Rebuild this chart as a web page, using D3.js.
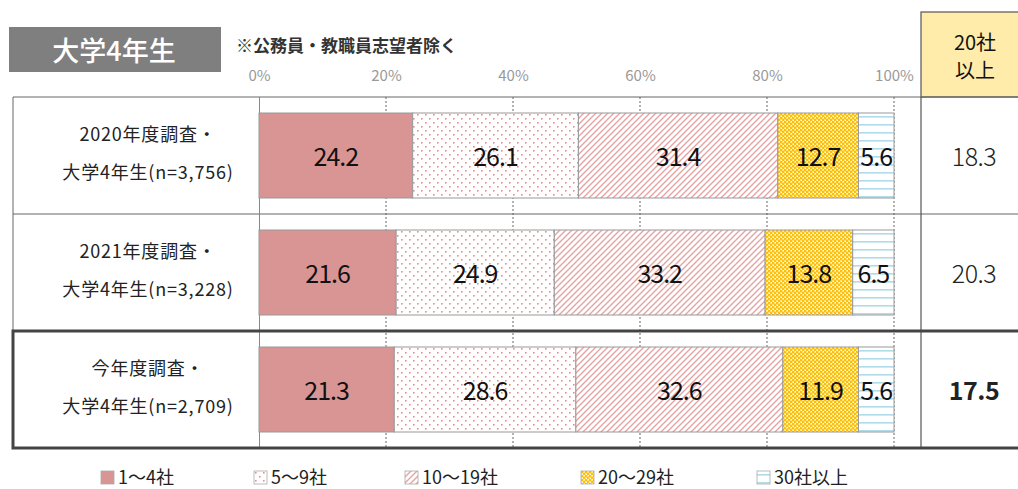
<!DOCTYPE html>
<html>
<head>
<meta charset="utf-8">
<script src="https://cdn.jsdelivr.net/npm/d3@7"></script>
<style>
  html, body { margin: 0; padding: 0; background: #fff; }
  svg { display: block; font-family: "Noto Sans CJK JP", "Noto Sans", sans-serif; }
</style>
</head>
<body>
<div id="chart"></div>
<script>
// data
const rowLines = [
  ["2020年度調査・", "大学4年生(n=3,756)"],
  ["2021年度調査・", "大学4年生(n=3,228)"],
  ["今年度調査・", "大学4年生(n=2,709)"]
];
const categories = ["1〜4社", "5〜9社", "10〜19社", "20〜29社", "30社以上"];
const values = [
  [24.2, 26.1, 31.4, 12.7, 5.6],
  [21.6, 24.9, 33.2, 13.8, 6.5],
  [21.3, 28.6, 32.6, 11.9, 5.6]
];
const over20 = ["18.3", "20.3", "17.5"];
const ticks = [0, 20, 40, 60, 80, 100];

const width = 1018, height = 489;
const svg = d3.select("#chart").append("svg")
  .attr("width", width).attr("height", height);

// patterns
const defs = svg.append("defs");
let p = defs.append("pattern").attr("id", "pDots").attr("patternUnits", "userSpaceOnUse")
  .attr("width", 8).attr("height", 8);
p.append("rect").attr("width", 8).attr("height", 8).attr("fill", "#fff");
p.append("rect").attr("x", 1).attr("y", 1).attr("width", 1.6).attr("height", 1.6).attr("fill", "#e58e8e");
p.append("rect").attr("x", 5).attr("y", 5).attr("width", 1.6).attr("height", 1.6).attr("fill", "#e58e8e");

p = defs.append("pattern").attr("id", "pDiag").attr("patternUnits", "userSpaceOnUse")
  .attr("width", 6).attr("height", 6);
p.append("rect").attr("width", 6).attr("height", 6).attr("fill", "#fff");
p.append("path").attr("d", "M-1,7 L7,-1 M-1,1 L1,-1 M5,7 L7,5")
  .attr("stroke", "#e5a3a3").attr("stroke-width", 1.4);

p = defs.append("pattern").attr("id", "pCheck").attr("patternUnits", "userSpaceOnUse")
  .attr("width", 4).attr("height", 4);
p.append("rect").attr("width", 4).attr("height", 4).attr("fill", "#ffe08a");
p.append("rect").attr("width", 2).attr("height", 2).attr("fill", "#ffc000");
p.append("rect").attr("x", 2).attr("y", 2).attr("width", 2).attr("height", 2).attr("fill", "#ffc000");
p.append("rect").attr("x", 3).attr("y", 0).attr("width", 1).attr("height", 1).attr("fill", "#fff");
p.append("rect").attr("x", 1).attr("y", 3).attr("width", 1).attr("height", 1).attr("fill", "#fff");

p = defs.append("pattern").attr("id", "pHoriz").attr("patternUnits", "userSpaceOnUse")
  .attr("width", 8).attr("height", 8);
p.append("rect").attr("width", 8).attr("height", 8).attr("fill", "#fff");
p.append("rect").attr("y", 3).attr("width", 8).attr("height", 1.6).attr("fill", "#b0dbe8");

const fills = ["#d99594", "url(#pDots)", "url(#pDiag)", "url(#pCheck)", "url(#pHoriz)"];

// scales
const x = d3.scaleLinear().domain([0, 100]).range([259, 894]);
const y = d3.scaleBand().domain(d3.range(rowLines.length)).range([97, 448]);
const barPad = 16;

// title block
svg.append("rect").attr("x", 9).attr("y", 27).attr("width", 212).attr("height", 45).attr("fill", "#7f7f7f");
svg.append("text").attr("x", 114).attr("y", 61).attr("text-anchor", "middle")
  .attr("fill", "#fff").attr("font-size", 27).attr("font-weight", 500).text("大学4年生");
svg.append("text").attr("x", 236).attr("y", 52)
  .attr("fill", "#333").attr("font-size", 17).attr("font-weight", 700).text("※公務員・教職員志望者除く");

// header box for 20社以上
svg.append("rect").attr("x", 921).attr("y", 12).attr("width", 110).attr("height", 85)
  .attr("fill", "#ffebaa").attr("stroke", "#555").attr("stroke-width", 1.2);
svg.append("text").attr("x", 975).attr("y", 50).attr("text-anchor", "middle")
  .attr("font-size", 20).attr("fill", "#111").text("20社");
svg.append("text").attr("x", 975).attr("y", 78).attr("text-anchor", "middle")
  .attr("font-size", 20).attr("fill", "#111").text("以上");

// tick labels
svg.append("g")
  .attr("transform", "translate(0,81)")
  .call(d3.axisTop(x).tickValues(ticks).tickSize(0).tickPadding(0).tickFormat(d => d + "%"))
  .call(g => g.select(".domain").remove())
  .call(g => g.selectAll("text").attr("fill", "#999").attr("font-size", 15)
    .attr("font-family", "'Noto Sans CJK JP', sans-serif"));

// dotted grid
svg.append("g").selectAll("line")
  .data(ticks.slice(1))
  .join("line")
    .attr("x1", d => x(d)).attr("x2", d => x(d))
    .attr("y1", 97).attr("y2", 448)
    .attr("stroke", "#8a8a8a").attr("stroke-width", 1.3).attr("stroke-dasharray", "2,2");

// table lines
const tableTop = y(0), rh = y.bandwidth();
svg.append("line").attr("x1", 13).attr("x2", width).attr("y1", tableTop).attr("y2", tableTop).attr("stroke", "#666");
svg.append("line").attr("x1", 13).attr("x2", width).attr("y1", y(1)).attr("y2", y(1)).attr("stroke", "#666");
svg.append("line").attr("x1", 13).attr("x2", 13).attr("y1", tableTop).attr("y2", y(2)).attr("stroke", "#666");
svg.append("line").attr("x1", 259.5).attr("x2", 259.5).attr("y1", tableTop).attr("y2", 448).attr("stroke", "#888");
svg.append("line").attr("x1", 921).attr("x2", 921).attr("y1", 97).attr("y2", 448).attr("stroke", "#555").attr("stroke-width", 1.2);
svg.append("rect").attr("x", 13).attr("y", y(2)).attr("width", width).attr("height", rh)
  .attr("fill", "none").attr("stroke", "#444").attr("stroke-width", 3);

// rows
const rows = svg.append("g").selectAll("g.row")
  .data(values)
  .join("g")
    .attr("class", "row")
    .attr("transform", (d, i) => `translate(0,${y(i)})`);

rows.each(function(vals, i) {
  const g = d3.select(this);
  let acc = 0;
  const segs = vals.map((v, j) => { const s = { v, j, x0: acc }; acc += v; return s; });

  g.selectAll("rect.bar")
    .data(segs)
    .join("rect")
      .attr("class", "bar")
      .attr("x", d => x(d.x0))
      .attr("y", barPad)
      .attr("width", d => x(d.x0 + d.v) - x(d.x0))
      .attr("height", rh - 2 * barPad)
      .attr("fill", d => fills[d.j])
      .attr("stroke", "#999").attr("stroke-width", 1);

  g.selectAll("text.val")
    .data(segs)
    .join("text")
      .attr("class", "val")
      .attr("x", d => (x(d.x0) + x(d.x0 + d.v)) / 2)
      .attr("y", rh / 2 + 10)
      .attr("text-anchor", "middle")
      .attr("font-size", 25).attr("letter-spacing", -1).attr("fill", "#111")
      .text(d => d.v.toFixed(1));

  g.selectAll("text.lab")
    .data(rowLines[i])
    .join("text")
      .attr("class", "lab")
      .attr("x", 148)
      .attr("y", (d, k) => 44 + k * 38)
      .attr("text-anchor", "middle")
      .attr("font-size", 18).attr("letter-spacing", 0.8).attr("fill", "#222")
      .text(d => d);

  g.append("text")
    .attr("x", 974).attr("y", rh / 2 + 10)
    .attr("text-anchor", "middle")
    .attr("font-size", 25).attr("letter-spacing", -0.5)
    .attr("font-weight", i === 2 ? 700 : 300)
    .attr("fill", "#222")
    .text(over20[i]);
});

// legend
const legX = [101, 254, 405, 581, 757];
const leg = svg.append("g").selectAll("g.leg")
  .data(categories)
  .join("g")
    .attr("class", "leg")
    .attr("transform", (d, i) => `translate(${legX[i]},471)`);
leg.append("rect").attr("width", 13).attr("height", 13)
  .attr("fill", (d, i) => fills[i]).attr("stroke", "#aaa").attr("stroke-width", 0.8);
leg.append("text").attr("x", 17).attr("y", 13)
  .attr("font-size", 18).attr("fill", "#222").text(d => d);
</script>
</body>
</html>
